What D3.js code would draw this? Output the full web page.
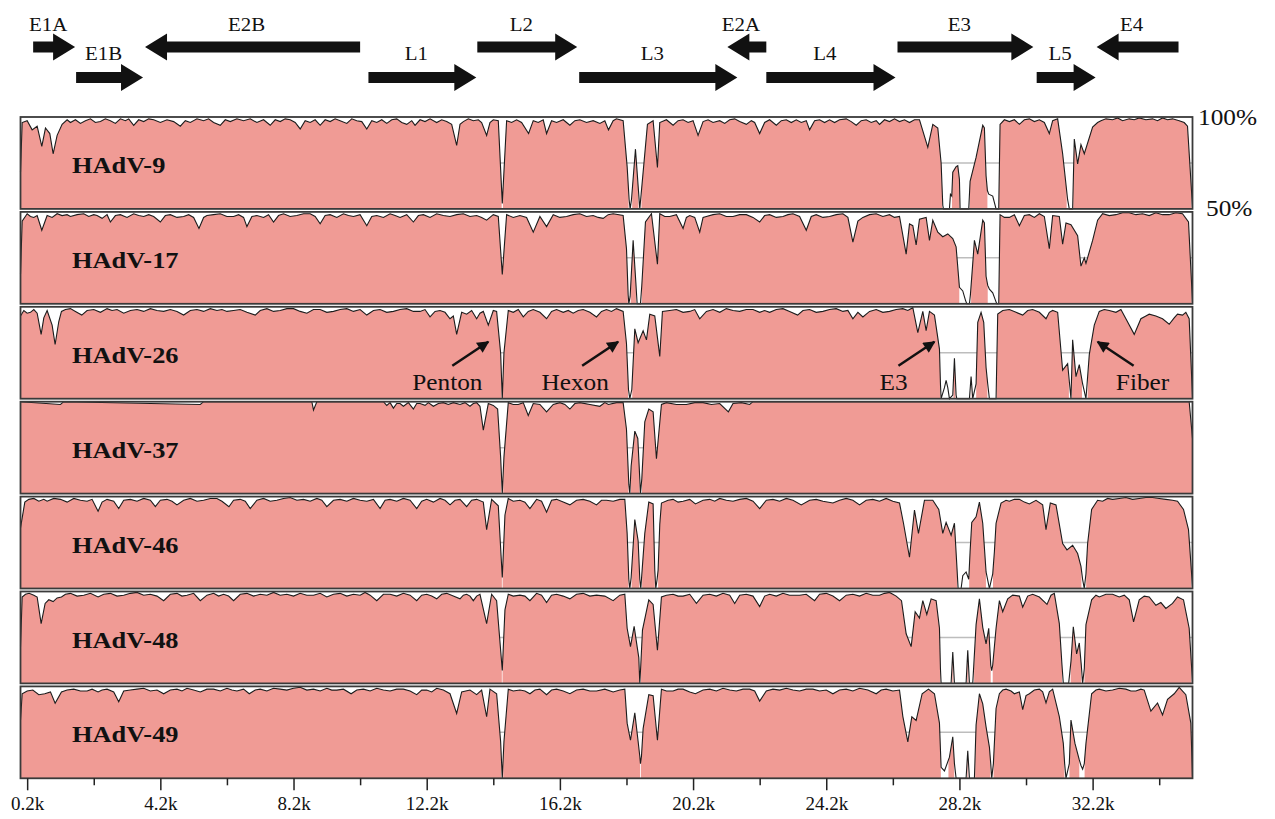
<!DOCTYPE html>
<html>
<head>
<meta charset="utf-8">
<script src="https://cdn.jsdelivr.net/npm/d3@7"></script>
<style>
  body { margin: 0; background: #fff; }
  svg { display: block; }
  text { font-family: "Liberation Serif", "Times New Roman", serif; fill: #111; }
</style>
</head>
<body>
<svg id="chart" width="1275" height="819"></svg>
<script>
// genome length and axis ticks (kb)
const genomeKb = 35.2
const tickMajor = [0.2, 4.2, 8.2, 12.2, 16.2, 20.2, 24.2, 28.2, 32.2]
const tickMinor = [2.2, 6.2, 10.2, 14.2, 18.2, 22.2, 26.2, 30.2, 34.2]

// gene map (kb)
const geneNames  = ['E1A', 'E1B', 'E2B', 'L1', 'L2', 'L3', 'E2A', 'L4', 'E3', 'L5', 'E4']
const geneStart  = [0.38, 1.67, 3.74, 10.45, 13.72, 16.78, 21.23, 22.4, 26.34, 30.52, 32.32]
const geneEnd    = [1.64, 3.68, 10.2, 13.69, 16.72, 21.53, 22.4, 26.28, 30.42, 32.29, 34.78]
const geneStrand = ['+', '+', '-', '+', '+', '+', '-', '+', '+', '+', '-']
const geneRow    = [0, 1, 0, 1, 0, 1, 0, 1, 0, 1, 0]

// annotations in the HAdV-26 panel (arrow target and label centre, kb)
const annoLabels = ['Penton', 'Hexon', 'E3', 'Fiber']
const annoAt     = [14.05, 17.95, 27.45, 32.35]
const annoTextAt = [12.82, 16.66, 26.22, 33.7]
const annoDir    = [1, 1, 1, -1]

// % identity profiles, [kb, %]
const hadv9 = [[0,70],[0.05,97],[0.2,98],[0.35,93],[0.5,95],[0.64,84],[0.75,94],[0.88,91],[0.98,80],[1.1,90],[1.25,96],[1.4,98.5],[1.5,97],[1.65,98.5],[1.8,96.5],[1.95,98],[2.1,99],[2.25,97],[2.4,97.5],[2.55,99],[2.7,98],[2.85,96.5],[3.0,99],[3.15,98],[3.25,99],[3.4,95.5],[3.55,98.5],[3.7,97.5],[3.85,99],[4.0,98.5],[4.2,97],[4.4,98.5],[4.6,97.5],[4.8,95],[4.95,98],[5.1,97],[5.3,99],[5.5,98],[5.65,99],[5.8,97],[6.0,95.5],[6.15,98.5],[6.3,97.5],[6.5,99],[6.7,98],[6.9,99],[7.1,97],[7.3,98.5],[7.5,95.5],[7.65,98.5],[7.8,97.5],[7.95,99],[8.1,98.5],[8.25,97],[8.4,93.5],[8.55,98],[8.7,97],[8.85,98.5],[9.0,95.5],[9.15,98.5],[9.3,97.5],[9.45,99],[9.6,98],[9.8,96.5],[9.95,99],[10.1,98],[10.25,97.5],[10.4,93.5],[10.55,98],[10.7,97],[10.85,98.5],[11.0,96.5],[11.15,98.5],[11.3,99],[11.45,97],[11.6,96],[11.75,98],[11.85,95.5],[12.0,98.5],[12.15,97.5],[12.3,99],[12.5,97],[12.65,98.5],[12.8,97.5],[12.95,96],[13.1,84.5],[13.2,96],[13.3,97.5],[13.45,99],[13.6,98],[13.75,98.5],[13.85,97],[14.0,90],[14.1,97],[14.2,98.5],[14.35,98],[14.47,53],[14.6,98],[14.75,97],[14.9,98.5],[15.05,97],[15.26,91],[15.4,98],[15.55,97],[15.7,98.5],[15.8,91],[15.95,98],[16.1,97],[16.3,98.5],[16.5,95.5],[16.65,98],[16.8,98.5],[17.0,97],[17.2,98],[17.4,96.5],[17.55,98],[17.66,93],[17.8,98],[17.9,99],[18.1,98],[18.22,73],[18.28,55],[18.31,45],[18.35,55],[18.47,82.5],[18.56,60],[18.6,45],[18.64,58],[18.83,96],[19.0,98],[19.13,72.5],[19.2,97],[19.4,98.5],[19.6,95.5],[19.75,98],[19.9,98.5],[20.05,97],[20.2,98],[20.35,90],[20.5,97.5],[20.65,98.5],[20.8,97],[21.0,98],[21.15,96.5],[21.3,98.5],[21.45,99],[21.6,97.5],[21.8,96],[21.95,98],[22.05,97],[22.2,91],[22.35,97],[22.5,98.5],[22.7,95.5],[22.85,98],[23.0,98.5],[23.15,97],[23.3,98.5],[23.45,97],[23.6,98],[23.7,93],[23.85,98],[24.0,98.5],[24.15,97],[24.3,98.5],[24.45,97],[24.6,98.5],[24.8,99],[24.95,97.5],[25.1,95.5],[25.25,98],[25.4,98.5],[25.55,97],[25.7,98],[25.8,96],[25.95,98.5],[26.1,97.5],[26.25,99],[26.4,97.5],[26.55,98.5],[26.7,97],[26.85,98.5],[27.0,98.5],[27.25,83.5],[27.4,96],[27.55,94],[27.65,75],[27.7,52],[27.72,45],[27.9,45],[27.93,58],[27.97,57],[28.0,70],[28.1,73],[28.15,73.5],[28.2,66],[28.22,45],[28.48,45],[28.52,65],[28.7,78],[28.9,95.5],[28.95,94],[29.0,68],[29.04,60],[29.08,58],[29.2,57],[29.3,45],[29.38,45],[29.42,96],[29.55,98.5],[29.7,97.5],[29.85,98.5],[30.0,96],[30.15,98.5],[30.3,99],[30.45,97.5],[30.6,98.5],[30.75,97],[30.9,91],[31.0,98],[31.15,99],[31.3,80],[31.45,55],[31.5,45],[31.6,45],[31.65,88],[31.75,74.5],[31.85,85],[31.95,80],[32.2,94.5],[32.35,97],[32.45,98],[32.6,99],[32.8,98.5],[32.95,99.5],[33.1,98],[33.3,99],[33.45,98.5],[33.6,99.5],[33.8,98.5],[34.0,99],[34.15,98],[34.3,99.5],[34.45,98.5],[34.6,99],[34.8,98],[34.95,97],[35.05,95],[35.2,51]]

const hadv17 = [[0,66],[0.05,95],[0.2,99],[0.3,97.5],[0.4,97],[0.5,98],[0.64,90],[0.8,98],[0.95,97],[1.1,99],[1.25,98],[1.4,98.5],[1.5,97.5],[1.7,98.5],[1.9,99],[2.05,97.5],[2.2,98.5],[2.3,98],[2.45,96.5],[2.6,98.5],[2.7,94.5],[2.85,98],[3.0,98.5],[3.2,97],[3.4,99],[3.55,98],[3.7,97.5],[3.85,98.5],[4.0,97.5],[4.2,94.5],[4.35,98],[4.5,98.5],[4.7,97],[4.9,97.5],[5.05,98.5],[5.2,97],[5.36,91],[5.5,97],[5.6,98],[5.8,98.5],[6.0,99],[6.2,97.5],[6.4,97.5],[6.55,98.5],[6.7,97],[6.8,92],[6.95,97.5],[7.1,98],[7.3,97],[7.45,98.5],[7.6,94.5],[7.75,98],[7.9,99],[8.1,97.5],[8.3,98],[8.5,99],[8.7,99],[8.85,97.5],[9.0,93.5],[9.15,98],[9.3,98.5],[9.5,97],[9.7,99],[9.85,98],[10.0,97.5],[10.2,98.5],[10.4,92.5],[10.55,97.5],[10.7,98],[10.9,97],[11.1,99],[11.25,98],[11.4,97],[11.6,98.5],[11.8,94.5],[11.95,98],[12.1,98.5],[12.3,97],[12.5,99],[12.7,98],[12.9,97.5],[13.1,98.5],[13.3,99],[13.5,97.5],[13.7,98],[13.85,97],[14.0,95.5],[14.2,98.5],[14.35,97.5],[14.47,66],[14.6,98.5],[14.8,97],[15.0,98],[15.2,97],[15.4,89],[15.6,97.5],[15.8,92],[16.0,98.5],[16.2,97],[16.4,97.5],[16.6,98.5],[16.8,99],[17.0,97.5],[17.2,98],[17.35,97],[17.5,96.5],[17.65,98.5],[17.8,99],[18.1,98],[18.2,80],[18.25,55],[18.27,45],[18.31,54],[18.4,84.5],[18.48,62],[18.52,45],[18.62,45],[18.66,60],[18.77,94.5],[18.95,99],[19.13,71.5],[19.2,99],[19.35,97.5],[19.5,97.5],[19.7,98.5],[19.9,91],[20.0,97],[20.1,98],[20.25,97],[20.4,89],[20.5,97],[20.6,97.5],[20.8,98.5],[21.0,99],[21.2,97.5],[21.4,97.5],[21.6,98.5],[21.8,98.5],[22.0,97],[22.2,94.5],[22.35,98],[22.5,98.5],[22.7,97],[22.9,97.5],[23.05,98.5],[23.2,99],[23.4,97.5],[23.6,90],[23.75,97.5],[23.9,98.5],[24.1,97],[24.3,97.5],[24.5,98.5],[24.7,99],[24.85,97],[25.0,83.5],[25.15,95],[25.3,97],[25.5,98.5],[25.7,99],[25.9,97.5],[26.1,98.5],[26.25,97],[26.4,97.5],[26.6,77],[26.7,93.5],[26.8,92.5],[26.9,82],[27.0,96],[27.2,97],[27.3,84.5],[27.4,95.5],[27.55,89],[27.7,86.5],[27.85,88],[28.0,85.5],[28.1,81],[28.2,59],[28.3,57],[28.38,52],[28.42,45],[28.5,45],[28.53,55],[28.6,72],[28.65,84.5],[28.75,77],[28.9,95.5],[28.95,94],[29.0,65],[29.05,60],[29.1,58],[29.2,56],[29.28,52],[29.32,45],[29.38,45],[29.42,98.5],[29.55,97],[29.7,97],[29.85,98.5],[30.0,92.5],[30.15,98],[30.3,98.5],[30.45,97],[30.6,99],[30.75,97.5],[30.9,80],[31.0,98],[31.2,97.5],[31.3,82.5],[31.4,94],[31.55,93],[31.75,87],[31.85,70.5],[31.95,75],[32.0,72],[32.2,84.5],[32.35,95.5],[32.5,99],[32.7,98],[32.9,98.5],[33.1,99.5],[33.3,99.5],[33.5,98.5],[33.7,99],[33.9,98],[34.1,99.5],[34.3,98.5],[34.5,98.5],[34.7,99.5],[34.9,99],[35.08,94.5],[35.2,51]]

const hadv26 = [[0,95],[0.1,98],[0.2,96.5],[0.3,97],[0.4,98.5],[0.5,96.5],[0.62,85],[0.7,94],[0.8,98],[0.95,90],[1.04,79.5],[1.15,92],[1.23,97.5],[1.35,98.5],[1.5,99],[1.65,97.5],[1.84,95.5],[2.0,98],[2.2,98.5],[2.4,97],[2.6,99],[2.75,98],[2.9,98.5],[3.1,96.5],[3.3,98],[3.5,98.5],[3.7,97.5],[3.9,99],[4.1,98],[4.3,97.5],[4.5,98.5],[4.7,97.5],[4.9,95.5],[5.1,98],[5.3,98.5],[5.5,97.5],[5.7,99],[5.9,98],[6.05,98.5],[6.2,97.5],[6.4,98],[6.6,98.5],[6.8,97],[7.05,95.5],[7.2,98],[7.4,99],[7.6,97.5],[7.8,98],[8.0,99],[8.2,99],[8.4,97.5],[8.6,96.5],[8.8,98.5],[9.0,98.5],[9.2,97],[9.4,97.5],[9.6,98.5],[9.8,99],[10.0,97.5],[10.2,98.5],[10.4,95.5],[10.6,98],[10.8,98.5],[11.0,97],[11.2,97.5],[11.4,98.5],[11.6,99],[11.8,97.5],[12.0,97.5],[12.15,98.5],[12.3,94.5],[12.45,97.5],[12.6,98],[12.75,97],[12.9,93.5],[13.0,95],[13.1,85],[13.25,97],[13.4,96],[13.55,98],[13.7,93.5],[13.8,96.5],[13.9,97.5],[14.05,90],[14.2,98],[14.3,97.5],[14.42,75],[14.47,48],[14.52,75],[14.65,98],[14.8,97],[14.95,98.5],[15.1,94.5],[15.25,97.5],[15.4,98.5],[15.6,97],[15.8,93.5],[15.95,97.5],[16.1,98.5],[16.3,97],[16.45,98],[16.6,96.5],[16.75,98],[16.9,98.5],[17.1,97],[17.3,94.5],[17.45,97.5],[17.6,98.5],[17.75,97.5],[17.9,99],[18.1,97.5],[18.2,80],[18.26,55],[18.3,45],[18.36,55],[18.45,88],[18.55,80.5],[18.7,87],[18.8,82],[18.9,96],[19.05,95],[19.2,73],[19.28,97.5],[19.5,98],[19.7,98.5],[19.9,97],[20.1,97.5],[20.25,98.5],[20.4,93.5],[20.6,97.5],[20.8,98.5],[21.0,97],[21.2,99],[21.4,98],[21.6,97.5],[21.8,98.5],[22.0,98.5],[22.2,97],[22.35,98],[22.5,97],[22.7,98.5],[22.9,99],[23.1,97.5],[23.34,95.5],[23.5,98],[23.7,98.5],[23.9,97],[24.1,97.5],[24.3,98.5],[24.5,99],[24.7,97.5],[24.85,98],[25.0,93.5],[25.15,97],[25.3,94.5],[25.5,97.5],[25.7,98.5],[25.9,97],[26.1,97.5],[26.3,98.5],[26.5,99],[26.65,98],[26.8,99.5],[26.95,86],[27.1,97.5],[27.2,87],[27.3,97.5],[27.45,95.5],[27.6,77],[27.63,58],[27.65,45],[27.75,56],[27.8,60],[27.85,56],[27.9,45],[28.0,52],[28.05,72],[28.1,52],[28.12,45],[28.5,45],[28.55,62],[28.6,45],[28.7,58],[28.75,91.5],[28.85,97],[28.93,91.5],[29.0,67],[29.05,58],[29.1,45],[29.3,45],[29.35,96],[29.5,98],[29.7,98.5],[29.9,97],[30.1,95.5],[30.25,98],[30.4,98.5],[30.6,97],[30.8,93.5],[30.9,97],[31.0,98],[31.15,97],[31.3,65.5],[31.45,69],[31.55,45],[31.6,82],[31.7,62],[31.8,68.5],[31.9,58],[32.0,45],[32.1,74],[32.25,90],[32.4,97.5],[32.55,98.5],[32.7,98],[32.9,97],[33.05,98.5],[33.2,93.5],[33.45,85],[33.65,93.5],[33.8,95],[33.9,96],[34.1,95],[34.3,93.5],[34.5,90.5],[34.65,94],[34.75,96],[34.9,95.5],[35.0,97],[35.1,93.5],[35.2,51]]

const hadv37 = [[0,100],[1.2,98.5],[1.3,100],[5.4,98.5],[5.5,100],[8.75,100],[8.8,95.5],[8.9,100],[10.9,100],[11.0,98],[11.1,99.5],[11.2,96.5],[11.3,99],[11.4,99],[11.5,97.5],[11.65,99.5],[11.8,96],[11.9,99],[12.0,99],[12.15,98],[12.25,99.5],[12.4,97.5],[12.55,99],[12.7,99.5],[12.85,98.5],[13.0,99.5],[13.2,98.5],[13.35,99.5],[13.5,97.5],[13.6,99],[13.7,99.5],[13.8,97.5],[13.9,84.5],[14.05,99],[14.2,98],[14.33,96],[14.42,70],[14.47,47],[14.52,70],[14.65,99.5],[14.8,98.5],[14.95,98.5],[15.1,99.5],[15.25,92.5],[15.4,99],[15.6,98.5],[15.8,94.5],[16.0,98.5],[16.2,99.5],[16.35,98.5],[16.5,96],[16.65,99],[16.8,99.5],[17.1,98.5],[17.4,97.5],[17.55,99.5],[17.66,98.5],[17.9,99.5],[18.1,99.5],[18.2,85],[18.27,55],[18.3,45],[18.34,65],[18.45,84],[18.54,80],[18.6,58],[18.62,45],[18.66,58],[18.75,89],[18.87,96],[19.0,94.5],[19.1,69],[19.25,98.5],[19.4,99.5],[19.7,98.5],[20.0,98.5],[20.25,99.5],[20.5,99.5],[20.75,98.5],[21.0,99],[21.26,94.5],[21.4,99],[21.65,99.5],[21.9,98.5],[22.0,100],[35.1,100],[35.2,80]]

const hadv46 = [[0,83],[0.13,97],[0.25,98.5],[0.4,99],[0.55,97.5],[0.7,98.5],[0.8,97.5],[1.0,99],[1.2,98.5],[1.4,97],[1.6,99],[1.8,98],[2.0,97.5],[2.15,98.5],[2.33,92],[2.45,97],[2.6,98.5],[2.8,97.5],[2.95,93.5],[3.1,98],[3.3,98.5],[3.5,97.5],[3.7,99],[3.9,98],[4.05,94.5],[4.2,98],[4.4,98.5],[4.55,97.5],[4.7,95.5],[4.9,98],[5.1,99],[5.3,97.5],[5.5,98],[5.7,99],[5.9,99],[6.05,97.5],[6.26,94.5],[6.4,98],[6.6,98.5],[6.75,97.5],[6.9,93.5],[7.1,98],[7.3,99],[7.5,97.5],[7.7,98],[7.9,99],[8.1,99.5],[8.3,98],[8.5,98.5],[8.7,97.5],[8.9,99],[9.05,98],[9.2,94.5],[9.4,98],[9.6,98.5],[9.8,97.5],[10.0,99],[10.2,98],[10.4,97.5],[10.6,98.5],[10.8,93.5],[10.95,98],[11.1,98.5],[11.3,97.5],[11.5,99],[11.7,98],[11.9,93.5],[12.05,97.5],[12.2,98.5],[12.4,97],[12.6,99],[12.75,98],[12.9,95.5],[13.05,98],[13.2,98.5],[13.4,94.5],[13.55,98],[13.7,98.5],[13.9,97],[14.0,82],[14.15,98.5],[14.35,95],[14.47,56],[14.55,90],[14.65,99],[14.8,97.5],[15.0,98],[15.15,97],[15.3,93.5],[15.5,98.5],[15.65,97.5],[15.8,91.5],[15.95,98],[16.1,98.5],[16.3,97],[16.5,95.5],[16.7,98],[16.9,98.5],[17.1,97.5],[17.3,95.5],[17.45,98],[17.6,98],[17.8,97.5],[18.0,98.5],[18.15,98.5],[18.22,80],[18.27,55],[18.3,45],[18.34,56],[18.45,87.5],[18.55,76],[18.6,55],[18.63,45],[18.67,60],[18.75,80],[18.87,97],[19.0,96],[19.05,60],[19.08,45],[19.12,55],[19.15,60],[19.2,85],[19.25,96.5],[19.45,98],[19.6,98.5],[19.75,97],[19.9,97.5],[20.1,98.5],[20.27,96],[20.5,98],[20.7,98.5],[20.85,97.5],[21.0,99],[21.2,98],[21.4,97.5],[21.6,98.5],[21.8,99],[22.0,97.5],[22.2,93.5],[22.4,98],[22.6,98.5],[22.8,97.5],[23.0,99],[23.2,98],[23.45,95.5],[23.7,98],[23.9,98.5],[24.1,97.5],[24.4,96.5],[24.6,98],[24.8,99],[25.0,98],[25.2,95.5],[25.4,98],[25.6,98.5],[25.8,97.5],[26.0,99],[26.2,97.5],[26.4,96.5],[26.52,85.5],[26.7,67],[26.85,92.7],[26.97,80],[27.15,98],[27.4,98],[27.58,93],[27.7,80],[27.8,86],[27.95,79],[28.05,85.5],[28.13,60],[28.16,48],[28.25,45],[28.3,57],[28.4,59],[28.48,55],[28.52,70],[28.57,86],[28.7,89],[28.8,97],[28.9,85.5],[29.0,59],[29.1,50],[29.2,58],[29.25,70],[29.3,85.5],[29.45,96.5],[29.6,98],[29.7,97.5],[29.85,98.5],[30.0,98.5],[30.15,97],[30.3,96],[30.5,98],[30.7,95.5],[30.8,82],[30.93,96.5],[31.1,95.5],[31.3,74.5],[31.43,71],[31.6,73.5],[31.75,69],[31.85,62],[31.9,55],[31.95,45],[32.0,58],[32.05,74.5],[32.17,93],[32.35,98],[32.5,97.5],[32.65,99],[32.8,98.5],[33.0,99],[33.2,99.5],[33.4,98.5],[33.6,99],[33.8,99.5],[34.0,99.5],[34.2,99],[34.4,98.5],[34.6,98],[34.75,97.5],[34.93,93],[35.08,82],[35.2,51]]

const hadv48 = [[0,70],[0.05,97],[0.15,98.5],[0.26,99],[0.4,98],[0.5,97],[0.62,82.5],[0.74,93.5],[0.85,95.5],[0.98,94.5],[1.1,96.5],[1.23,97],[1.35,98.5],[1.5,99],[1.7,97.5],[1.9,98],[2.1,99],[2.33,97],[2.5,98.5],[2.7,99],[2.9,97.5],[3.1,98],[3.3,99],[3.5,99.5],[3.7,98],[3.9,98.5],[4.1,97.5],[4.3,95],[4.5,98.5],[4.7,99],[4.85,97.5],[5.0,98],[5.2,99],[5.4,95],[5.6,98],[5.8,99],[5.95,97.5],[6.1,98.5],[6.25,97.5],[6.4,95],[6.6,98.5],[6.8,99],[7.0,97.5],[7.2,98.5],[7.4,98],[7.6,99.5],[7.8,98],[8.0,98.5],[8.2,97.5],[8.4,99],[8.6,98],[8.8,98],[9.0,99],[9.2,97],[9.4,98.5],[9.6,99],[9.8,97.5],[10.0,98.5],[10.2,98],[10.35,99.5],[10.5,98],[10.7,95],[10.9,98.5],[11.1,98.5],[11.3,97.5],[11.5,99],[11.7,98],[11.9,95],[12.05,98],[12.2,98.5],[12.35,97.5],[12.5,96],[12.65,98.5],[12.8,99],[13.0,97.5],[13.2,96],[13.3,98],[13.4,98.5],[13.5,97.5],[13.6,95],[13.7,97.5],[13.8,98.5],[14.0,82.5],[14.15,98.5],[14.3,95],[14.47,57],[14.55,90],[14.65,98.5],[14.8,97.5],[15.0,98],[15.15,97.5],[15.3,95],[15.5,99],[15.65,98],[15.8,94],[15.95,98],[16.1,98.5],[16.3,97.5],[16.5,96],[16.7,98.5],[16.9,99],[17.1,97.5],[17.3,98],[17.55,97.5],[17.8,95],[18.0,98],[18.15,98.5],[18.22,80],[18.32,70],[18.43,81],[18.52,70],[18.57,64],[18.6,45],[18.63,60],[18.68,79],[18.87,95.5],[19.0,93],[19.13,68],[19.25,97],[19.4,98],[19.6,98.5],[19.75,97.5],[19.9,97.5],[20.1,98.5],[20.3,93.5],[20.5,98],[20.7,98.5],[20.9,97.5],[21.1,99],[21.3,98],[21.45,93.5],[21.6,98],[21.8,98.5],[22.0,97.5],[22.2,91.8],[22.35,97.5],[22.5,98.5],[22.7,97.5],[22.9,99],[23.1,98],[23.4,98],[23.6,98.5],[23.85,95],[24.0,98.5],[24.2,99],[24.4,97.5],[24.6,95],[24.8,98],[25.0,98.5],[25.2,97.5],[25.4,99],[25.6,98],[25.8,98],[25.95,99],[26.1,99.5],[26.3,97.5],[26.46,95],[26.6,77],[26.75,70],[26.87,89],[27.0,85.5],[27.1,95],[27.22,87.5],[27.35,96],[27.5,95],[27.6,80],[27.63,58],[27.65,45],[27.95,45],[28.0,67],[28.05,45],[28.4,45],[28.45,68],[28.5,45],[28.6,45],[28.7,82],[28.8,96],[28.9,80.5],[29.0,71.5],[29.08,80],[29.14,60],[29.17,57],[29.2,60],[29.3,80],[29.4,95],[29.5,89],[29.65,96],[29.8,98],[30.0,97.5],[30.1,91.5],[30.25,97.5],[30.4,98.5],[30.6,97],[30.83,93],[30.95,98],[31.05,99],[31.2,82.5],[31.28,60],[31.32,45],[31.48,45],[31.55,62],[31.62,80.8],[31.72,66],[31.8,72],[31.86,60],[31.9,45],[31.95,58],[32.0,82],[32.17,95.5],[32.3,98],[32.4,97],[32.6,98.5],[32.8,98.5],[33.0,97],[33.15,98],[33.3,95.5],[33.43,83.5],[33.6,95.5],[33.75,97.5],[33.9,97],[34.1,92.5],[34.25,94],[34.4,90.8],[34.6,93.5],[34.75,97],[34.93,95.5],[35.1,80],[35.2,51]]

const hadv49 = [[0,81.6],[0.05,96],[0.2,97.5],[0.37,98],[0.55,95.5],[0.73,96],[0.9,97],[1.04,90.8],[1.23,97],[1.4,98],[1.6,98.5],[1.8,97.5],[2.0,97.5],[2.15,98.5],[2.33,97],[2.45,98],[2.6,98.5],[2.8,97],[2.95,91.7],[3.1,97.5],[3.3,98],[3.5,98.5],[3.7,99],[3.9,97.5],[4.1,98],[4.3,96],[4.5,98],[4.7,98.5],[4.85,97.5],[5.0,99],[5.2,98],[5.4,97],[5.6,98.5],[5.8,98.5],[6.0,97.5],[6.2,99],[6.35,98],[6.5,97.5],[6.7,98.5],[6.87,96],[7.05,98],[7.2,98.5],[7.4,97.5],[7.6,99],[7.8,98.5],[8.0,98],[8.2,99],[8.4,99.5],[8.6,98],[8.8,98.5],[9.0,97.5],[9.2,99],[9.35,98],[9.5,98],[9.7,98.5],[9.93,96],[10.1,98],[10.3,98.5],[10.5,97.5],[10.7,99],[10.9,98],[11.1,97.5],[11.3,98.5],[11.5,98.5],[11.7,97.5],[11.9,95.5],[12.05,98],[12.2,98],[12.35,97],[12.5,99],[12.7,98],[12.9,96],[13.1,85.3],[13.25,97],[13.5,98],[13.7,95.5],[13.85,98],[14.0,83.5],[14.1,98.5],[14.3,96],[14.42,70],[14.47,48],[14.52,70],[14.65,98.5],[14.8,97.5],[15.0,98],[15.15,97.5],[15.3,96],[15.45,98],[15.6,98.5],[15.8,95.5],[15.95,98],[16.1,98.5],[16.3,97.5],[16.5,96],[16.7,98],[16.9,98.5],[17.1,97.5],[17.3,97.5],[17.55,98.5],[17.8,97],[18.0,98],[18.15,98.5],[18.22,80],[18.32,70.7],[18.45,85.6],[18.55,70],[18.6,62],[18.62,58],[18.65,62],[18.7,77],[18.87,95.5],[19.0,95],[19.13,70.7],[19.25,98.5],[19.4,97.5],[19.6,97.5],[19.75,98.5],[19.9,98.5],[20.1,97],[20.27,96],[20.5,98],[20.7,98.5],[20.9,97.5],[21.1,99],[21.3,98],[21.5,97.5],[21.7,98.5],[21.9,98.5],[22.05,97.5],[22.2,92],[22.4,97.5],[22.6,98.5],[22.8,98],[23.0,99],[23.2,98],[23.4,97.5],[23.6,98.5],[23.8,98.5],[24.0,97.5],[24.2,98],[24.4,96],[24.6,98],[24.8,98.5],[25.0,97.5],[25.2,99],[25.45,98],[25.7,96],[25.85,98],[26.0,98.5],[26.2,97.5],[26.4,98],[26.5,83.7],[26.65,69.8],[26.77,83.5],[26.9,81.5],[27.08,96],[27.27,98.5],[27.45,96],[27.6,80],[27.65,56],[27.75,54],[27.9,61.5],[28.0,72.6],[28.05,58],[28.1,45],[28.4,45],[28.45,65],[28.5,45],[28.65,45],[28.7,79],[28.8,96],[28.9,90.5],[29.0,78],[29.1,67],[29.14,58],[29.17,45],[29.22,58],[29.3,88],[29.4,96],[29.5,98],[29.6,98.5],[29.75,97.5],[29.85,96],[30.0,97],[30.1,87.4],[30.2,95],[30.3,96],[30.45,98],[30.6,98.5],[30.7,97],[30.8,91],[30.9,97],[31.0,98.5],[31.2,83.5],[31.32,69],[31.36,58],[31.4,45],[31.5,58],[31.55,81.7],[31.67,69],[31.8,60],[31.85,57],[31.9,55],[31.95,58],[32.0,69],[32.17,96],[32.3,98],[32.4,98.5],[32.6,97.5],[32.8,98],[33.0,99],[33.2,98.5],[33.35,97.5],[33.5,97.5],[33.65,98.5],[33.75,98],[33.95,86.5],[34.15,91],[34.3,84.5],[34.45,93],[34.65,96],[34.8,99.5],[35.0,95.5],[35.15,80],[35.2,51]]

const panelNames = ['HAdV-9', 'HAdV-17', 'HAdV-26', 'HAdV-37', 'HAdV-46', 'HAdV-48', 'HAdV-49']
const panelSeries = [hadv9, hadv17, hadv26, hadv37, hadv46, hadv48, hadv49]

const conservedMin = 60   // below this the column is left white

const svg = d3.select('#chart')
const pink = '#f09b95'
const sx = 1.1            // the source type is a little wide
const panelTop = 117
const panelH = 91.9
const panelGap = 3

const x = d3.scaleLinear().domain([0, genomeKb]).range([20.5, 1192.5])

// split a profile into runs above the threshold, closing each run on the threshold
const conservedRuns = (pts) => {
  const runs = []
  let cur = null
  pts.forEach((p, i) => {
    const [k, v] = p
    if (v >= conservedMin) {
      if (!cur) {
        cur = []
        if (i > 0) {
          const [k0, v0] = pts[i - 1]
          cur.push([k0 + (k - k0) * (conservedMin - v0) / (v - v0), conservedMin])
        }
        runs.push(cur)
      }
      cur.push(p)
    } else if (cur) {
      const [k0, v0] = pts[i - 1]
      cur.push([k0 + (k - k0) * (v0 - conservedMin) / (v0 - v), conservedMin])
      cur = null
    }
  })
  return runs
}

const stretchedText = (parent, tx, ty, str) => parent.append('text')
  .attr('transform', `translate(${tx},${ty}) scale(${sx},1)`)
  .text(str)

// gene arrows
const rowY = [47, 77.5]
const rowLabelY = [31, 60]
const headL = 22, headH = 13.5, shaftH = 5.5
const genes = geneNames.map((n, i) => ({
  name: n, s: geneStart[i], e: geneEnd[i], strand: geneStrand[i], row: geneRow[i]
}))
const geneG = svg.append('g')
geneG.selectAll('path')
  .data(genes)
  .join('path')
  .attr('fill', '#111')
  .attr('d', (d) => {
    const yc = rowY[d.row]
    const a = x(d.s), b = x(d.e)
    if (d.strand === '+') {
      return `M${a},${yc - shaftH}L${b - headL},${yc - shaftH}L${b - headL},${yc - headH}L${b},${yc}` +
        `L${b - headL},${yc + headH}L${b - headL},${yc + shaftH}L${a},${yc + shaftH}Z`
    }
    return `M${b},${yc - shaftH}L${a + headL},${yc - shaftH}L${a + headL},${yc - headH}L${a},${yc}` +
      `L${a + headL},${yc + headH}L${a + headL},${yc + shaftH}L${b},${yc + shaftH}Z`
  })
genes.forEach((d) => {
  stretchedText(geneG, (x(d.s) + x(d.e)) / 2 - 6, rowLabelY[d.row], d.name)
    .attr('text-anchor', 'middle')
    .attr('font-size', 19)
})

// panels
const panelTops = panelNames.map((n, i) => panelTop + i * (panelH + panelGap))
panelSeries.forEach((series, i) => {
  const top = panelTops[i]
  const y = d3.scaleLinear().domain([50, 100]).range([top + panelH, top])
  const g = svg.append('g')

  g.append('line')
    .attr('x1', x(0)).attr('x2', x(genomeKb))
    .attr('y1', y(75)).attr('y2', y(75))
    .attr('stroke', '#bdbdbd')
    .attr('stroke-width', 1.5)

  const area = d3.area()
    .x((d) => x(d[0]))
    .y0(y(50))
    .y1((d) => y(Math.min(100, d[1])))
  g.selectAll('path.fill')
    .data(conservedRuns(series))
    .join('path')
    .attr('class', 'fill')
    .attr('fill', pink)
    .attr('d', area)

  const line = d3.line()
    .x((d) => x(d[0]))
    .y((d) => y(Math.max(50, Math.min(100, d[1]))))
  g.append('path')
    .datum(series)
    .attr('fill', 'none')
    .attr('stroke', '#1c1c1c')
    .attr('stroke-width', 1.1)
    .attr('d', line)

  g.append('rect')
    .attr('x', x(0)).attr('y', top)
    .attr('width', x(genomeKb) - x(0)).attr('height', panelH)
    .attr('fill', 'none')
    .attr('stroke', '#3a3a3a')
    .attr('stroke-width', 1.8)

  stretchedText(g, 72, top + 56, panelNames[i])
    .attr('font-weight', 'bold')
    .attr('font-size', 24)
})

// percent labels
stretchedText(svg, 1198, panelTops[0] + 8, '100%').attr('font-size', 23)
stretchedText(svg, 1206, panelTops[0] + panelH + 7, '50%').attr('font-size', 23)

// x axis
const axisY = panelTops[6] + panelH
const axisG = svg.append('g').attr('transform', `translate(0,${axisY})`)
axisG.call(d3.axisBottom(x).tickValues(tickMajor).tickSize(12).tickPadding(6)
  .tickFormat((d) => `${d}k`))
axisG.append('g').call(d3.axisBottom(x).tickValues(tickMinor).tickSize(7).tickFormat(''))
axisG.selectAll('.domain').remove()
axisG.selectAll('.tick line').attr('stroke', '#222').attr('stroke-width', 1.5)
axisG.selectAll('.tick text')
  .attr('font-size', 19)
  .attr('font-family', '"Liberation Serif", "Times New Roman", serif')
  .attr('fill', '#111')

// annotation arrows in the HAdV-26 panel
svg.append('defs').append('marker')
  .attr('id', 'head')
  .attr('viewBox', '0 0 10 10')
  .attr('refX', 9).attr('refY', 5)
  .attr('markerUnits', 'userSpaceOnUse')
  .attr('markerWidth', 14).attr('markerHeight', 12)
  .attr('orient', 'auto')
  .append('path')
  .attr('d', 'M0,0L10,5L0,10Z')
  .attr('fill', '#111')

const annoTop = panelTops[2]
const annoG = svg.append('g')
annoLabels.forEach((lab, i) => {
  const tx = x(annoAt[i]), ty = annoTop + 35
  const fx = tx - annoDir[i] * 36, fy = ty + 24
  annoG.append('line')
    .attr('x1', fx).attr('y1', fy)
    .attr('x2', tx).attr('y2', ty)
    .attr('stroke', '#111')
    .attr('stroke-width', 2.5)
    .attr('marker-end', 'url(#head)')
  stretchedText(annoG, x(annoTextAt[i]), ty + 48, lab)
    .attr('text-anchor', 'middle')
    .attr('font-size', 23)
})
</script>
</body>
</html>
